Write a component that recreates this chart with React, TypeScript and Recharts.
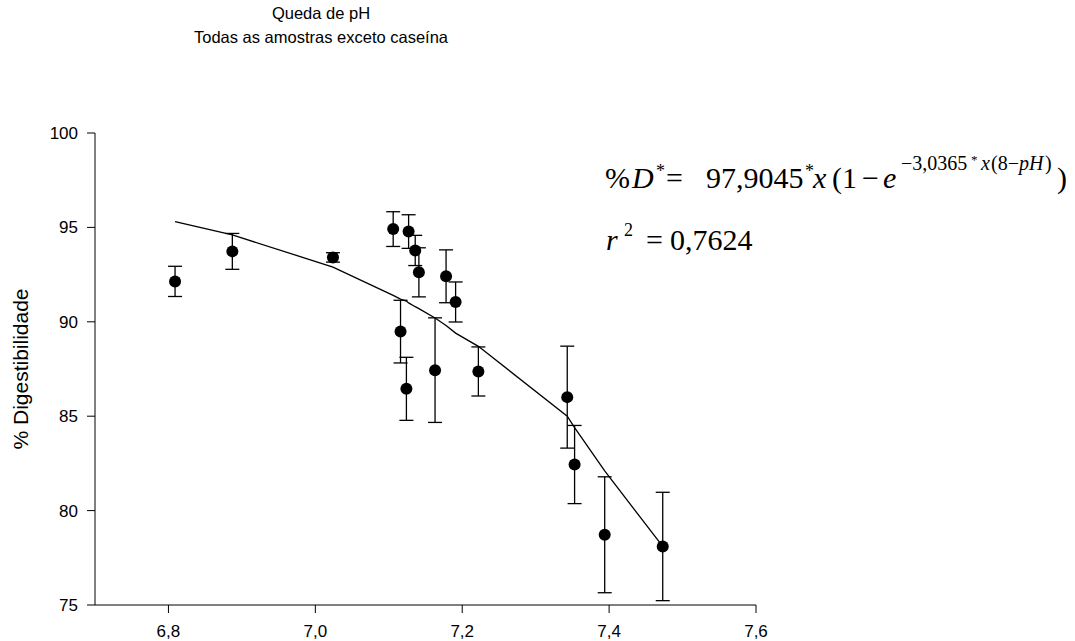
import { ScatterChart, Scatter, XAxis, YAxis, ErrorBar } from 'recharts'

// measured samples: pH drop vs. digestibility (mean ± sd)
const phValues = [6.809, 6.887, 7.024, 7.106, 7.127, 7.136, 7.141, 7.178, 7.191, 7.116, 7.124, 7.163, 7.222, 7.343, 7.353, 7.394, 7.473]
const digestValues = [92.14, 93.73, 93.41, 94.91, 94.78, 93.78, 92.62, 92.41, 91.05, 89.48, 86.45, 87.44, 87.37, 86.01, 82.44, 78.72, 78.1]
const sdValues = [0.8, 0.95, 0.25, 0.92, 0.89, 0.8, 1.3, 1.4, 1.06, 1.66, 1.67, 2.77, 1.3, 2.7, 2.07, 3.07, 2.87]

// regression line as plotted
const fitPh = [6.809, 6.887, 7.024, 7.106, 7.116, 7.124, 7.127, 7.136, 7.141, 7.163, 7.178, 7.191, 7.222, 7.343, 7.353, 7.394, 7.473]
const fitValues = [95.3, 94.6, 92.9, 91.4, 91.2, 91.1, 91.0, 90.8, 90.7, 90.2, 89.8, 89.4, 88.7, 85.0, 84.4, 82.1, 78.1]

const xTicks = [6.8, 7.0, 7.2, 7.4, 7.6]
const yTicks = [75, 80, 85, 90, 95, 100]

const samples = phValues.map((ph, i) => ({ ph, d: digestValues[i], sd: sdValues[i] }))
const fit = fitPh.map((ph, i) => ({ ph, d: fitValues[i] }))

const sans = '"Liberation Sans", Arial, sans-serif'
const serif = '"Liberation Serif", "Times New Roman", serif'

const Dot = (props: any) => <circle cx={props.cx} cy={props.cy} r={6} fill="#000" />
const NoDot = () => <g />

export default function App() {
  return (
    <div style={{ position: 'absolute', left: 0, top: 0, width: 1075, height: 641, background: '#fff' }}>
      <ScatterChart width={1075} height={641} margin={{ top: 133, right: 319, bottom: 6, left: 35 }}>
        <XAxis
          type="number"
          dataKey="ph"
          domain={[6.7, 7.6]}
          ticks={xTicks}
          allowDataOverflow
          tickFormatter={(v: number) => v.toFixed(1).replace('.', ',')}
          tickSize={8}
          tickMargin={12}
          height={30}
          stroke="#000"
          tick={{ fill: '#000', fontSize: 17, fontFamily: sans }}
        />
        <YAxis
          type="number"
          dataKey="d"
          domain={[75, 100]}
          ticks={yTicks}
          allowDataOverflow
          tickSize={8}
          tickMargin={9}
          width={60}
          stroke="#000"
          tick={{ fill: '#000', fontSize: 17, fontFamily: sans }}
        />
        <Scatter
          data={fit}
          line={{ stroke: '#000', strokeWidth: 1.3 }}
          lineType="joint"
          shape={NoDot}
          isAnimationActive={false}
        />
        <Scatter data={samples} shape={Dot} isAnimationActive={false}>
          <ErrorBar dataKey="sd" direction="y" width={7} stroke="#000" strokeWidth={1.3} />
        </Scatter>
      </ScatterChart>
      <svg
        width={1075}
        height={641}
        style={{ position: 'absolute', left: 0, top: 0, pointerEvents: 'none' }}
      >
        <text x={321} y={19} textAnchor="middle" fontFamily={sans} fontSize={16.5}>Queda de pH</text>
        <text x={321} y={43} textAnchor="middle" fontFamily={sans} fontSize={16.5}>Todas as amostras exceto caseína</text>
        <text transform="translate(28,369) rotate(-90)" textAnchor="middle" fontFamily={sans} fontSize={21}>% Digestibilidade</text>

        {/* fitted model */}
        <g fontFamily={serif} fill="#000">
          <text x={605} y={188} fontSize={30}>%</text>
          <text x={632} y={188} fontSize={30} fontStyle="italic">D</text>
          <text x={656} y={177} fontSize={18}>*</text>
          <text x={666} y={188} fontSize={30}>=</text>
          <text x={706} y={188} fontSize={30}>97,9045</text>
          <text x={805} y={177} fontSize={18}>*</text>
          <text x={813} y={188} fontSize={30} fontStyle="italic">x</text>
          <text x={832} y={188} fontSize={30}>(1</text>
          <text x={862} y={188} fontSize={30}>−</text>
          <text x={883} y={188} fontSize={30} fontStyle="italic">e</text>
          <text x={901} y={170} fontSize={20}>−3,0365</text>
          <text x={971} y={164} fontSize={13}>*</text>
          <text x={981} y={170} fontSize={20} fontStyle="italic">x</text>
          <text x={991} y={170} fontSize={20}>(8−</text>
          <text x={1019} y={170} fontSize={20} fontStyle="italic">pH</text>
          <text x={1045} y={170} fontSize={20}>)</text>
          <text x={1057} y={188} fontSize={30}>)</text>

          <text x={606} y={250} fontSize={30} fontStyle="italic">r</text>
          <text x={624} y={236} fontSize={18}>2</text>
          <text x={646} y={250} fontSize={30}>=</text>
          <text x={670} y={250} fontSize={30}>0,7624</text>
        </g>
      </svg>
    </div>
  )
}
